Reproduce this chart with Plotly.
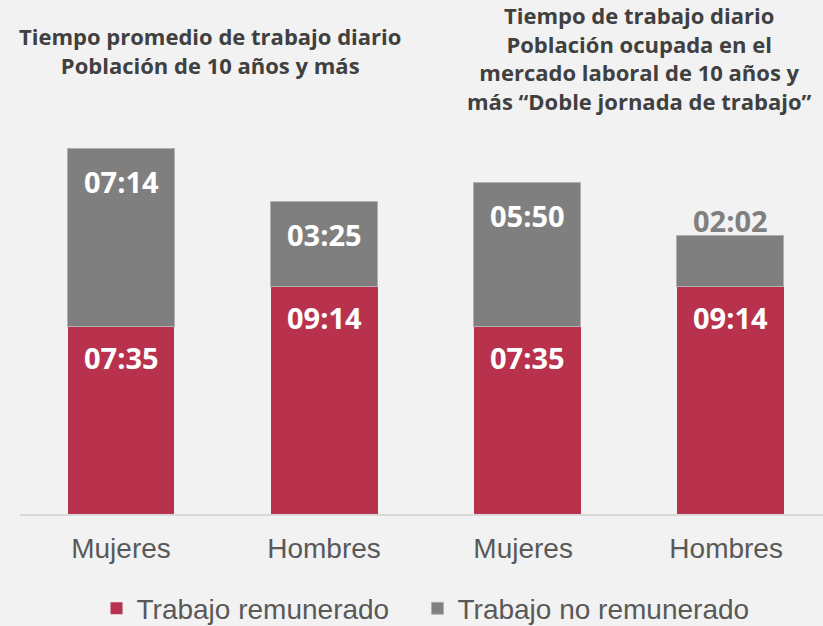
import plotly.graph_objects as go

categories = ["Mujeres", "Hombres", "Mujeres ", "Hombres "]
paid_labels = ["07:35", "09:14", "07:35", "09:14"]
unpaid_labels = ["07:14", "03:25", "05:50", "02:02"]
series_names = ["Trabajo remunerado", "Trabajo no remunerado"]
title_left = ["Tiempo promedio de trabajo diario", "Población de 10 años y más"]
title_right = ["Tiempo de trabajo diario", "Población ocupada en el",
               "mercado laboral de 10 años y", "más “Doble jornada de trabajo”"]

def to_hours(s):
    h, m = s.split(":")
    return int(h) + int(m) / 60.0

paid = [to_hours(s) for s in paid_labels]
unpaid = [to_hours(s) for s in unpaid_labels]

RED = "#b8324d"
GRAY = "#7f7f7f"
BG = "#f2f2f2"

W, H = 823, 626
ML, MR, MT, MB = 20, 0, 120, 112
PW, PH = W - ML - MR, H - MT - MB

fig = go.Figure()
fig.add_trace(go.Bar(x=categories, y=paid, name=series_names[0] + "\u00a0\u00a0\u00a0",
                     marker=dict(color=RED, line=dict(width=0)), width=0.527))
fig.add_trace(go.Bar(x=categories, y=unpaid, name=series_names[1],
                     marker=dict(color=GRAY, line=dict(width=1, color="#b0b0b0")), width=0.527))

ann = []
lab_font = dict(family="Open Sans, DejaVu Sans", size=29, color="white")
for i, c in enumerate(categories):
    ann.append(dict(x=c, y=paid[i], text="<b>%s</b>" % paid_labels[i], showarrow=False,
                    yanchor="middle", yshift=-31, font=lab_font))
    top = paid[i] + unpaid[i]
    if i == 3:
        ann.append(dict(x=c, y=top, text="<b>%s</b>" % unpaid_labels[i], showarrow=False,
                        yanchor="middle", yshift=15,
                        font=dict(family="Open Sans, DejaVu Sans", size=29, color="#7f7f7f")))
    else:
        ann.append(dict(x=c, y=top, text="<b>%s</b>" % unpaid_labels[i], showarrow=False,
                        yanchor="middle", yshift=-33, font=lab_font))

title_font = dict(family="Open Sans, DejaVu Sans", size=22, color="#404040")

def px_to_paper(xp, yp):
    return (xp - ML) / PW, 1 + (MT - yp) / PH

x, y = px_to_paper(210, 50.5)
ann.append(dict(xref="paper", yref="paper", x=x, y=y,
                text="<b>" + "<br>".join(title_left) + "</b>",
                showarrow=False, xanchor="center", yanchor="middle", font=title_font))
x, y = px_to_paper(639, 58)
ann.append(dict(xref="paper", yref="paper", x=x, y=y,
                text="<b>" + "<br>".join(title_right) + "</b>",
                showarrow=False, xanchor="center", yanchor="middle", font=title_font))

fig.update_layout(
    width=W, height=H,
    barmode="stack",
    paper_bgcolor=BG, plot_bgcolor=BG,
    margin=dict(l=ML, r=MR, t=MT, b=MB, autoexpand=False),
    showlegend=True,
    legend=dict(orientation="h", x=0.505, xanchor="center", y=-0.24, yanchor="middle",
                font=dict(family="Liberation Sans, Arial", size=28, color="#595959"),
                traceorder="normal", bgcolor="rgba(0,0,0,0)"),
    annotations=ann,
    xaxis=dict(range=[-0.4975, 3.458], showgrid=False, showline=True, linecolor="#d9d9d9",
               linewidth=2, ticks="", ticklabelstandoff=8,
               tickfont=dict(family="Liberation Sans, Arial", size=28, color="#595959"),
               zeroline=False),
    yaxis=dict(range=[0, 15.96], visible=False, showgrid=False, zeroline=False),
)

fig.write_html("out.html", config={"displayModeBar": False},
               post_script="document.body.style.margin='0';document.body.style.background='%s';" % BG)
